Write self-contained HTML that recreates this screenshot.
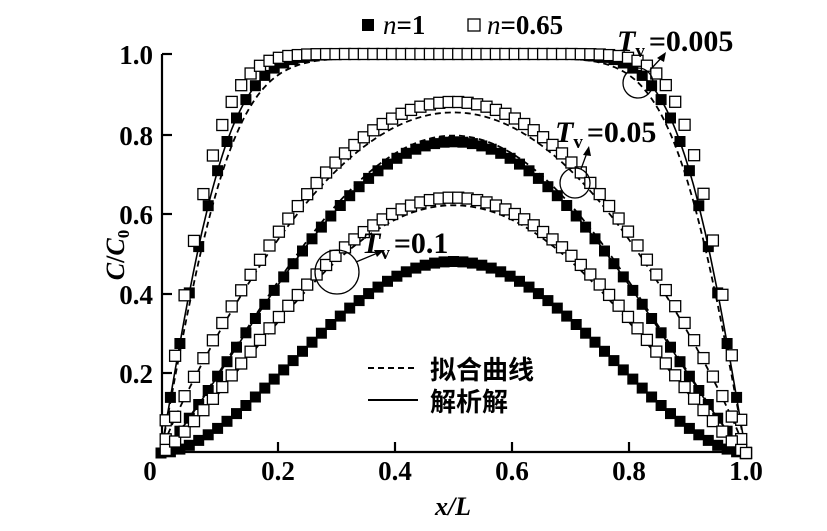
<!DOCTYPE html><html><head><meta charset="utf-8"><style>
html,body{margin:0;padding:0;background:#fff}
svg{display:block}
text{font-family:"Liberation Serif",serif;font-weight:bold;fill:#000}
</style></head><body>
<svg id="s" width="827" height="531" viewBox="0 0 827 531" xmlns="http://www.w3.org/2000/svg">
<g stroke="#000" stroke-width="2.2" fill="none">
<line x1="162" y1="54" x2="162" y2="453"/>
<line x1="161" y1="452" x2="746" y2="452"/>
<line x1="162" y1="54" x2="172" y2="54"/><line x1="162" y1="135" x2="172" y2="135"/>
<line x1="162" y1="214" x2="172" y2="214"/><line x1="162" y1="294" x2="172" y2="294"/>
<line x1="162" y1="373" x2="172" y2="373"/>
<line x1="278" y1="452" x2="278" y2="442"/><line x1="395" y1="452" x2="395" y2="442"/>
<line x1="512" y1="452" x2="512" y2="442"/><line x1="629" y1="452" x2="629" y2="442"/>
<line x1="746" y1="452" x2="746" y2="442"/>
</g>
<g font-size="27" text-anchor="end">
<text x="153" y="64">1.0</text><text x="153" y="145">0.8</text><text x="153" y="224">0.6</text>
<text x="153" y="304">0.4</text><text x="153" y="383">0.2</text>
</g>
<g font-size="27" text-anchor="middle">
<text x="150" y="480">0</text><text x="278" y="480">0.2</text><text x="395" y="480">0.4</text>
<text x="512" y="480">0.6</text><text x="629" y="480">0.8</text><text x="746" y="480">1.0</text>
</g>
<text x="453" y="515" font-size="26" font-style="italic" font-weight="normal" text-anchor="middle">x/L</text>
<g transform="translate(124,255) rotate(-90)"><text font-size="26" font-weight="normal" text-anchor="middle"><tspan font-style="italic">C</tspan>/<tspan font-style="italic">C</tspan><tspan font-size="17" dy="5">0</tspan></text></g>
<g id="data"></g>
<!-- legend -->
<rect x="362" y="19" width="12" height="12" fill="#000"/>
<text x="383" y="34" font-size="27"><tspan font-style="italic" font-weight="normal">n</tspan>=1</text>
<rect x="468" y="19" width="12" height="12" fill="#fff" stroke="#000" stroke-width="1.3"/>
<text x="487" y="34" font-size="27"><tspan font-style="italic" font-weight="normal">n</tspan>=0.65</text>
<line x1="368" y1="368" x2="418" y2="368" stroke="#000" stroke-width="2" stroke-dasharray="6,4"/>
<line x1="368" y1="400" x2="418" y2="400" stroke="#000" stroke-width="2"/>
<text x="430" y="379" font-size="26" style="font-family:'Noto Sans CJK SC',sans-serif">拟合曲线</text>
<text x="430" y="411" font-size="26" style="font-family:'Noto Sans CJK SC',sans-serif">解析解</text>
<!-- annotations -->
<g stroke="#000" stroke-width="1.3" fill="none">
<circle cx="638" cy="83" r="15"/><circle cx="575" cy="183" r="15"/><circle cx="337" cy="272" r="22"/>
<line x1="650" y1="70" x2="664" y2="55"/><line x1="581" y1="169" x2="588" y2="150"/><line x1="356" y1="262" x2="380" y2="252"/>
</g>
<g fill="#000"><polygon points="666,52 657,58 664,62"/><polygon points="589,146 583,155 591,156"/><polygon points="384,250 374,250 377,257"/></g>
<text x="617" y="51" font-size="30" font-weight="normal"><tspan font-style="italic">T</tspan><tspan font-size="19" dy="6">v</tspan><tspan dy="-6" font-weight="bold" dx="4">=0.005</tspan></text>
<text x="555" y="142" font-size="30" font-weight="normal"><tspan font-style="italic">T</tspan><tspan font-size="19" dy="6">v</tspan><tspan dy="-6" font-weight="bold" dx="4">=0.05</tspan></text>
<text x="362" y="253" font-size="30" font-weight="normal"><tspan font-style="italic">T</tspan><tspan font-size="19" dy="6">v</tspan><tspan dy="-6" font-weight="bold" dx="4">=0.1</tspan></text>
</svg>
<script>
function erf(x){var s=x<0?-1:1;x=Math.abs(x);var t=1/(1+0.3275911*x);var y=1-(((((1.061405429*t-1.453152027)*t)+1.421413741)*t-0.284496736)*t+0.254829592)*t*Math.exp(-x*x);return s*y;}
function X(v){return 161+585*v} function Y(v){return 453-399*v}
function edge(k){return function(x){var d=Math.min(x,1-x);return erf(d/k);}}
function sinp(pk,p){return function(x){return pk*Math.pow(Math.max(0,Math.sin(Math.PI*x)),p);}}
var g=document.getElementById('data'),h='';
var curves=[
 {f:edge(0.13),fill:1},{f:edge(0.11),fill:0},
 {f:sinp(0.78,1.16),fill:1},{f:sinp(0.88,0.88),fill:0},
 {f:sinp(0.48,1.7),fill:1},{f:sinp(0.64,1.2),fill:0}];
function path(f,off,k){var s='';for(var i=0;i<=200;i++){var x=i/200;s+=(i?'L':'M')+X(x).toFixed(1)+','+Y(f(x)*off).toFixed(1);}return s;}
[0,2,4].forEach(function(a){h+='<path d="'+path(curves[a].f,1)+'" fill="none" stroke="#000" stroke-width="1.6"/>';});
h+='<path d="'+path(edge(0.14),0.99)+'" fill="none" stroke="#000" stroke-width="1.8" stroke-dasharray="6,4"/>';
[[3,0.97],[5,0.97],[2,1.02]].forEach(function(a){h+='<path d="'+path(curves[a[0]].f,a[1])+'" fill="none" stroke="#000" stroke-width="1.8" stroke-dasharray="6,4"/>';});
curves.forEach(function(c,ci){var N=62;for(var i=0;i<=N;i++){var x=i/N;if(ci%2==1)x=Math.min(1,x+0.008);var px=X(x),py=Y(c.f(x));
 if(c.fill)h+='<rect x="'+(px-5.5).toFixed(1)+'" y="'+(py-5.5).toFixed(1)+'" width="11" height="11" fill="#000"/>';
 else h+='<rect x="'+(px-5.5).toFixed(1)+'" y="'+(py-5.5).toFixed(1)+'" width="11" height="11" fill="#fff" stroke="#000" stroke-width="1.3"/>';}});
g.innerHTML=h;
</script>
</body></html>
